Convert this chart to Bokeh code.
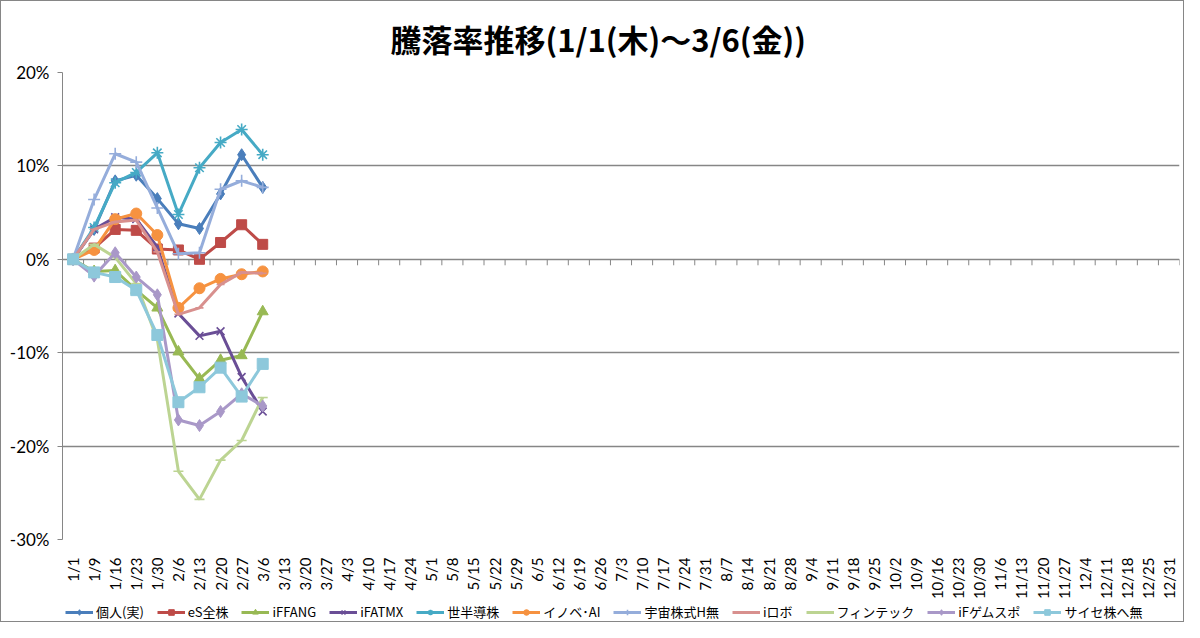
import math
from bokeh.plotting import figure
from bokeh.layouts import column
from bokeh.models import (Range1d, FixedTicker, PrintfTickFormatter, Legend, LegendItem)
from bokeh.embed import file_html
from bokeh.resources import INLINE

# ---------------- data ----------------
dates = ["1/1", "1/9", "1/16", "1/23", "1/30", "2/6", "2/13", "2/20", "2/27", "3/6",
         "3/13", "3/20", "3/27", "4/3", "4/10", "4/17", "4/24", "5/1", "5/8", "5/15",
         "5/22", "5/29", "6/5", "6/12", "6/19", "6/26", "7/3", "7/10", "7/17", "7/24",
         "7/31", "8/7", "8/14", "8/21", "8/28", "9/4", "9/11", "9/18", "9/25", "10/2",
         "10/9", "10/16", "10/23", "10/30", "11/6", "11/13", "11/20", "11/27", "12/4",
         "12/11", "12/18", "12/25", "12/31"]

y_ticks = [-30, -20, -10, 0, 10, 20]

kojin = [0, 3.2, 8.4, 9.0, 6.5, 3.8, 3.3, 7.0, 11.2, 7.7]
es_zenkabu = [0, 1.2, 3.2, 3.1, 1.1, 1.0, 0.0, 1.8, 3.7, 1.6]
iffang = [0, -1.3, -1.2, -3.3, -5.2, -9.9, -12.8, -10.8, -10.3, -5.6]
ifatmx = [0, 3.2, 4.5, 4.3, 1.3, -5.8, -8.2, -7.7, -12.6, -16.3]
sekai_handotai = [0, 3.4, 8.2, 9.3, 11.4, 4.8, 9.8, 12.5, 13.9, 11.2]
innovation_ai = [0, 1.0, 4.3, 4.9, 2.6, -5.2, -3.1, -2.1, -1.6, -1.3]
uchu = [0, 6.4, 11.3, 10.4, 5.5, 0.6, 0.7, 7.5, 8.4, 7.7]
i_robo = [0, 3.2, 4.0, 4.2, 0.8, -5.9, -5.2, -2.7, -1.4, -1.5]
fintech = [0, 1.6, 0.2, -2.6, -8.6, -22.7, -25.7, -21.5, -19.4, -14.8]
i_gamesports = [0, -1.8, 0.7, -1.9, -3.8, -17.2, -17.8, -16.3, -14.4, -15.7]
cyber = [0, -1.4, -1.9, -3.3, -8.1, -15.3, -13.7, -11.6, -14.7, -11.2]

series_names = ["個人(実)", "eS全株", "iFFANG", "iFATMX", "世半導株", "イノベ･AI",
                "宇宙株式H無", "iロボ", "フィンテック", "iFゲムスポ", "サイセ株へ無"]
series_values = [kojin, es_zenkabu, iffang, ifatmx, sekai_handotai, innovation_ai,
                 uchu, i_robo, fintech, i_gamesports, cyber]

# ---------------- style ----------------
colors = ["#4A7EBB", "#BE4B48", "#98B954", "#6A4E96", "#46AAC5", "#F69240",
          "#95ADDB", "#D8908E", "#BCD492", "#A998C8", "#8DC8DB"]
markers = ["diamond", "square", "triangle", "x", "asterisk", "circle",
           "cross", "dash", "dash", "diamond", "square"]
msizes = [12, 10, 11, 11, 12, 11, 12, 8, 10, 12, 11]
filled = [True, True, True, False, False, True, False, False, False, True, True]

GRID = "#868686"
W = 1182
H1, H2 = 602, 18
BL, BR, BT, BB = 61, 4, 70, 64
frame_h = H1 - BT - BB

p = figure(width=W, height=H1, output_backend="svg", toolbar_location=None,
           x_range=Range1d(-0.5, len(dates) - 0.5), y_range=Range1d(-30, 20),
           min_border_left=BL, min_border_right=BR, min_border_top=BT,
           min_border_bottom=BB)
p.outline_line_color = None
p.background_fill_color = "white"
p.border_fill_color = "white"

# title
p.title.text = "騰落率推移(1/1(木)～3/6(金))"
p.title.text_font = "Noto Sans CJK JP"
p.title.text_font_size = "31px"
p.title.text_font_style = "bold"
p.title.text_color = "black"
p.title.align = "left"
p.title.offset = 328
p.title.standoff = 24

# y axis
p.yaxis.ticker = FixedTicker(ticks=y_ticks)
p.yaxis.formatter = PrintfTickFormatter(format="%d%%")
p.yaxis.axis_line_color = GRID
p.yaxis.axis_line_width = 1
p.yaxis.major_tick_line_color = GRID
p.yaxis.major_tick_out = 5
p.yaxis.major_tick_in = 0
p.yaxis.minor_tick_line_color = None
p.yaxis.major_label_text_font = "Lato"
p.yaxis.major_label_text_font_size = "17px"
p.yaxis.major_label_text_color = "black"
p.yaxis.major_label_standoff = 8

# x axis (labels only; the axis line is the 0% line)
p.xaxis.ticker = FixedTicker(ticks=list(range(len(dates))))
p.xaxis.major_label_overrides = {i: d for i, d in enumerate(dates)}
p.xaxis.major_label_orientation = math.pi / 2
p.xaxis.axis_line_color = None
p.xaxis.major_tick_line_color = None
p.xaxis.minor_tick_line_color = None
p.xaxis.major_label_text_font = "Lato"
p.xaxis.major_label_text_font_size = "15px"
p.xaxis.major_label_text_color = "black"
p.xaxis.major_label_standoff = 12

p.xgrid.grid_line_color = None
p.ygrid.ticker = FixedTicker(ticks=y_ticks)
p.ygrid.grid_line_color = GRID
p.ygrid.grid_line_width = 1.3

# category tick marks hanging from the 0% line
bounds = [i - 0.5 for i in range(len(dates) + 1)]
tick_len = 6 * 50.0 / frame_h
p.segment(x0=bounds, y0=[0] * len(bounds), x1=bounds, y1=[-tick_len] * len(bounds),
          line_color=GRID, line_width=1)

# legend strip (same series, drawn outside its visible range; only the legend shows)
p2 = figure(width=W, height=H2, output_backend="svg", toolbar_location=None,
            x_range=Range1d(-0.5, len(dates) - 0.5), y_range=Range1d(1000, 1001),
            min_border_left=0, min_border_right=0, min_border_top=0, min_border_bottom=0)
p2.axis.visible = False
p2.grid.visible = False
p2.outline_line_color = None
p2.background_fill_color = "white"
p2.border_fill_color = "white"

items = []
for name, vals, c, m, s, f in zip(series_names, series_values, colors, markers, msizes, filled):
    xs = list(range(len(vals)))
    lw = 1.6 if not f else 1
    p.line(xs, vals, line_color=c, line_width=3)
    p.scatter(xs, vals, marker=m, size=s, fill_color=c if f else None,
              line_color=c, line_width=lw)
    dl = p2.line(xs, vals, line_color=c, line_width=3)
    dm = p2.scatter(xs, vals, marker=m, size=min(s, 9), fill_color=c if f else None,
                    line_color=c, line_width=lw)
    items.append(LegendItem(label=name, renderers=[dl, dm]))

legend = Legend(items=items, orientation="horizontal", location=(3, 0))
legend.label_text_font = "Noto Sans CJK JP"
legend.label_text_font_size = "13px"
legend.label_text_color = "black"
legend.glyph_width = 28
legend.glyph_height = 14
legend.label_height = 14
legend.label_standoff = 3
legend.spacing = 13
legend.padding = 2
legend.margin = 0
legend.border_line_color = None
legend.background_fill_alpha = 0
p2.add_layout(legend, "center")

layout = column(p, p2, spacing=0, styles={"border": "1px solid #868686"})
open("out.html", "w").write(file_html(layout, INLINE))
